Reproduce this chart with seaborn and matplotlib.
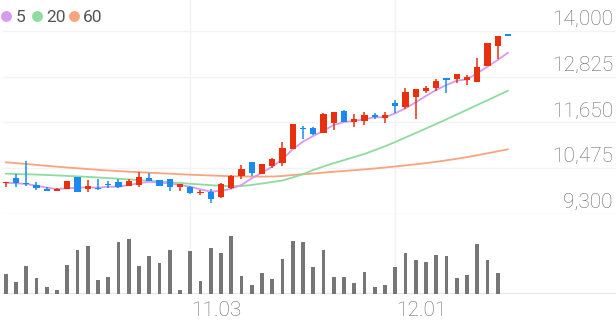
import numpy as np
import pandas as pd
import matplotlib
matplotlib.use("Agg")
import matplotlib.pyplot as plt
import seaborn as sns
from matplotlib.lines import Line2D

# ---------------- data ----------------
opens = [10089, 10232, 10104, 10045, 9942, 9891, 9934, 10243, 9942, 9976,
         10079, 10114, 10027, 10045, 10232, 10173, 10190, 9986, 10001, 9831,
         9873, 9729, 9968, 10284, 10628, 10328, 10533, 10602, 10982, 11517,
         11509, 11373, 11645, 11953, 11663, 11697, 11830, 11778, 12143, 12048,
         12297, 12467, 12528, 12785, 12760, 12742, 12682, 13101, 13615, 13923]
highs = [10130, 10320, 10669, 10130, 10001, 9976, 10155, 10258, 10173, 10190,
         10148, 10190, 10199, 10379, 10345, 10181, 10190, 10071, 10019, 9916,
         9934, 10089, 10302, 10559, 10636, 10584, 10738, 11157, 11604, 11568,
         11534, 11902, 11927, 11960, 11877, 11907, 11894, 11912, 12228, 12528,
         12503, 12595, 12760, 12790, 12888, 12870, 13299, 13684, 13872, 13923]
lows = [10001, 9986, 10019, 9916, 9883, 9891, 9934, 9857, 9865, 9925,
        9960, 9976, 10027, 9986, 10155, 10027, 9899, 9899, 9814, 9780,
        9575, 9710, 9942, 10199, 10276, 10328, 10482, 10533, 10970, 11214,
        11329, 11373, 11457, 11660, 11542, 11586, 11740, 11637, 11894, 11984,
        11732, 12400, 12459, 12415, 12672, 12605, 12682, 13090, 13273, 13870]
closes = [10130, 10089, 10063, 9960, 9883, 9934, 10155, 9873, 10019, 9934,
          10037, 10001, 10140, 10243, 10155, 10027, 10001, 10071, 9848, 9865,
          9678, 10071, 10276, 10456, 10345, 10584, 10705, 10987, 11604, 11476,
          11363, 11868, 11927, 11671, 11732, 11843, 11784, 11843, 12074, 12441,
          12503, 12544, 12716, 12742, 12888, 12811, 13083, 13684, 13872, 13870]

ma5 = [10104, 10089, 10071, 10027, 9976, 9942, 9960, 9976, 9986, 9976,
       10001, 10001, 10045, 10089, 10130, 10104, 10089, 10045, 10001, 9934,
       9873, 9899, 9947, 10045, 10217, 10361, 10515, 10705, 10962, 11157,
       11303, 11439, 11586, 11663, 11689, 11732, 11784, 11784, 11886, 12015,
       12169, 12331, 12485, 12613, 12724, 12760, 12914, 13083, 13255, 13443]
ma20 = [10335, 10327, 10320, 10312, 10302, 10291, 10279, 10266, 10253, 10238,
        10222, 10207, 10189, 10171, 10153, 10135, 10114, 10096, 10076, 10058,
        10040, 10024, 10014, 10019, 10045, 10083, 10122, 10160, 10238, 10322,
        10430, 10520, 10605, 10682, 10764, 10841, 10939, 11039, 11149, 11265,
        11380, 11496, 11612, 11732, 11856, 11976, 12100, 12220, 12344, 12467]
ma60 = [10628, 10607, 10584, 10561, 10538, 10515, 10494, 10474, 10456, 10435,
        10417, 10402, 10386, 10374, 10361, 10348, 10335, 10322, 10309, 10299,
        10289, 10279, 10271, 10266, 10261, 10261, 10263, 10276, 10302, 10320,
        10340, 10363, 10386, 10404, 10425, 10446, 10469, 10494, 10520, 10548,
        10577, 10607, 10641, 10679, 10718, 10761, 10808, 10859, 10910, 10962]

volume = [19.7, 11.7, 27.7, 16.3, 6.7, 4.3, 28.7, 44.0, 48.0, 13.7,
          17.0, 51.7, 54.7, 27.7, 38.3, 30.7, 44.3, 4.3, 43.0, 12.7,
          46.3, 40.7, 58.3, 18.3, 8.7, 21.0, 14.7, 35.0, 53.3, 51.7,
          27.0, 44.0, 16.7, 17.0, 11.0, 22.3, 7.0, 9.3, 27.3, 41.3,
          33.7, 32.3, 39.0, 38.0, 16.3, 18.7, 50.0, 33.7, 21.0]

price_ticks = [9300, 10475, 11650, 12825, 14000]
tick_labels = ["11.03", "12.01"]
tick_index = [18, 38]
legend_labels = ["5", "20", "60"]

# ---------------- style ----------------
RED = "#e8300f"
BLUE = "#1a8af0"
C5, C20, C60 = "#d79aee", "#8fdba0", "#f8a47e"
VOLC = "#767676"
GRID = "#f3f3f3"
TXT = "#6a6a6a"

sns.set_theme(style="white")
plt.rcParams["font.family"] = ["Roboto", "DejaVu Sans"]

W, H = 616, 321
fig = plt.figure(figsize=(W / 100, H / 100), dpi=100)
fig.patch.set_facecolor("white")

ax = fig.add_axes([0, 1 - 214 / H, 1, 214 / H])
axv = fig.add_axes([0, (H - 294) / H, 1, 80 / H])

XL = (-0.556, 59.54)

# grid
for v in price_ticks:
    ax.axhline(v, xmin=3 / W, color="#ebebeb" if v == price_ticks[0] else GRID,
               lw=1, zorder=0)
for t in tick_index:
    ax.axvline(t, color=GRID, lw=1, zorder=0)
    axv.axvline(t, color=GRID, lw=1, zorder=0)

# moving averages
n = len(closes)
idx = np.arange(n)
for vals, col in [(ma60, C60), (ma20, C20), (ma5, C5)]:
    sns.lineplot(x=idx, y=vals, ax=ax, color=col, lw=1.3, zorder=2)

# candles
o = np.array(opens, float)
c = np.array(closes, float)
cols = np.where(c >= o, RED, BLUE)
ax.vlines(idx, lows, highs, colors=cols, lw=1.1, zorder=3)
body_bottom = np.minimum(o, c)
body_h = np.maximum(np.abs(c - o), 45)
ax.bar(idx, body_h, bottom=body_bottom, width=0.6, color=cols, linewidth=0,
       zorder=4)

ax.set_xlim(*XL)
ax.set_ylim(9300, 14796)
ax.set_axis_off()

# y labels
for v in price_ticks:
    ax.annotate(f"{v:,}", xy=(1, v), xycoords=("axes fraction", "data"),
                xytext=(-3, 6), textcoords="offset pixels", ha="right",
                va="baseline", fontsize=15, color=TXT, fontweight="light")

# volume
vdf = pd.DataFrame({"i": idx[:len(volume)], "v": volume})
sns.barplot(data=vdf, x="i", y="v", native_scale=True, width=0.36, color=VOLC,
            saturation=1, ax=axv, zorder=2, linewidth=0)
axv.set_xlim(*XL)
axv.set_ylim(0, 80)
axv.set_axis_off()
axv.axhline(0, xmin=3 / W, color="#e6e6e6", lw=1.5, zorder=1)

for t, lab in zip(tick_index, tick_labels):
    axv.annotate(lab, xy=(t, 0), xycoords="data", xytext=(1, -22.5),
                 textcoords="offset pixels", ha="left", va="baseline",
                 fontsize=15, color=TXT, fontweight="light",
                 annotation_clip=False)

# legend
dot_x = [6.3, 37.3, 74.0]
txt_x = [16.0, 46.7, 83.3]
for dx, tx, lab, col in zip(dot_x, txt_x, legend_labels, [C5, C20, C60]):
    fig.add_artist(Line2D([dx / W], [1 - 16 / H], marker="o", ms=6.8,
                          color=col, linestyle="none",
                          transform=fig.transFigure))
    fig.text(tx / W, 1 - 21.7 / H, lab, ha="left", va="baseline",
             fontsize=12.5, color="#555555")

fig.savefig("out.png", dpi=100, facecolor="white")
